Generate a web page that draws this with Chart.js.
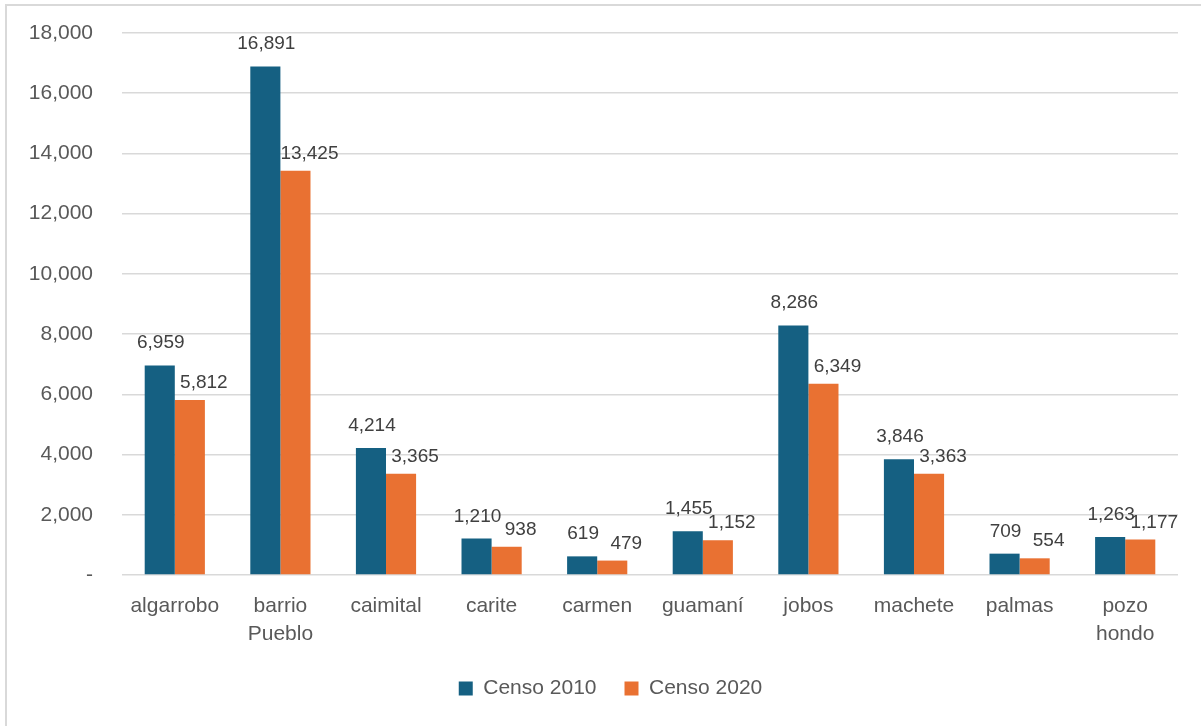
<!DOCTYPE html>
<html>
<head>
<meta charset="utf-8">
<title>Censo 2010 vs Censo 2020</title>
<script src="https://cdn.jsdelivr.net/npm/chart.js@4.4.1/dist/chart.umd.min.js"></script>
<style>
    html, body { margin: 0; padding: 0; background: #fff; }
    #wrap { position: relative; width: 1201px; height: 726px; overflow: hidden; }
    #frame {
        position: absolute; left: 5px; top: 4px; width: 1300px; height: 800px;
        border-left: 2px solid #d9d9d9; border-top: 2px solid #d9d9d9;
    }
    #mainChart { position: absolute; left: 0; top: 0; }
</style>
</head>
<body>
<div id="wrap">
    <div id="frame"></div>
    <canvas id="mainChart" width="1201" height="726"></canvas>
</div>
<script>
// Data
const categories = ['algarrobo', ['barrio', 'Pueblo'], 'caimital', 'carite', 'carmen',
    'guamaní', 'jobos', 'machete', 'palmas', ['pozo', 'hondo']];
const censo2010 = [6959, 16891, 4214, 1210, 619, 1455, 8286, 3846, 709, 1263];
const censo2020 = [5812, 13425, 3365, 938, 479, 1152, 6349, 3363, 554, 1177];
const yMax = 18000;
const yStep = 2000;

const FONT = "'Liberation Sans', Arial, sans-serif";

// Draws the value above each bar (Excel style data labels)
const barLabels = {
    id: 'barLabels',
    afterDatasetsDraw(chart, args, opts) {
        const ctx = chart.ctx;
        ctx.save();
        ctx.font = `${opts.size}px ${FONT}`;
        ctx.fillStyle = opts.color;
        ctx.textAlign = 'center';
        ctx.textBaseline = 'alphabetic';
        chart.data.datasets.forEach((ds, i) => {
            const meta = chart.getDatasetMeta(i);
            const off = opts.offsets[i];
            meta.data.forEach((bar, j) => {
                ctx.fillText(ds.data[j].toLocaleString('en-US'), bar.x + off.x, bar.y + off.y);
            });
        });
        ctx.restore();
    }
};

// Legend in the reference sits a bit right of the canvas centre
const legendShift = {
    id: 'legendShift',
    afterLayout(chart) {
        if (chart.legend) {
            chart.legend.left += 43;
        }
    }
};

const ctx = document.getElementById('mainChart').getContext('2d');

new Chart(ctx, {
    type: 'bar',
    data: {
        labels: categories,
        datasets: [{
            label: 'Censo 2010',
            data: censo2010,
            backgroundColor: '#156082',
            borderWidth: 0,
            categoryPercentage: 0.57,
            barPercentage: 1
        }, {
            label: 'Censo 2020',
            data: censo2020,
            backgroundColor: '#E97132',
            borderWidth: 0,
            categoryPercentage: 0.57,
            barPercentage: 1
        }]
    },
    options: {
        responsive: false,
        animation: false,
        layout: {
            padding: { top: 33, right: 23, bottom: 17, left: 0 }
        },
        scales: {
            x: {
                grid: { display: false, drawTicks: false },
                border: { display: false },
                ticks: {
                    color: '#595959',
                    padding: 18,
                    font: { family: FONT, size: 21, lineHeight: 1.3 },
                    maxRotation: 0,
                    autoSkip: false
                },
                afterFit: scale => { scale.height = 75; }
            },
            y: {
                min: 0,
                max: yMax,
                grid: { color: '#d9d9d9', lineWidth: 1.5, drawTicks: false },
                border: { display: false },
                ticks: {
                    stepSize: yStep,
                    color: '#595959',
                    padding: 29,
                    font: { family: FONT, size: 21 },
                    callback: v => v === 0 ? '-' : v.toLocaleString('en-US')
                },
                afterFit: scale => {
                    // fixed axis width; tick padding should not push the plot down
                    scale.width = 122;
                    scale.paddingTop = 0;
                    scale.paddingBottom = 0;
                }
            }
        },
        plugins: {
            legend: {
                position: 'bottom',
                labels: {
                    color: '#595959',
                    boxWidth: 14,
                    boxHeight: 14,
                    padding: 28,
                    font: { family: FONT, size: 21 }
                }
            },
            tooltip: { enabled: false },
            barLabels: {
                size: 19,
                color: '#404040',
                offsets: [{ x: 1, y: -17 }, { x: 14, y: -12 }]
            }
        }
    },
    plugins: [barLabels, legendShift]
});
</script>
</body>
</html>
